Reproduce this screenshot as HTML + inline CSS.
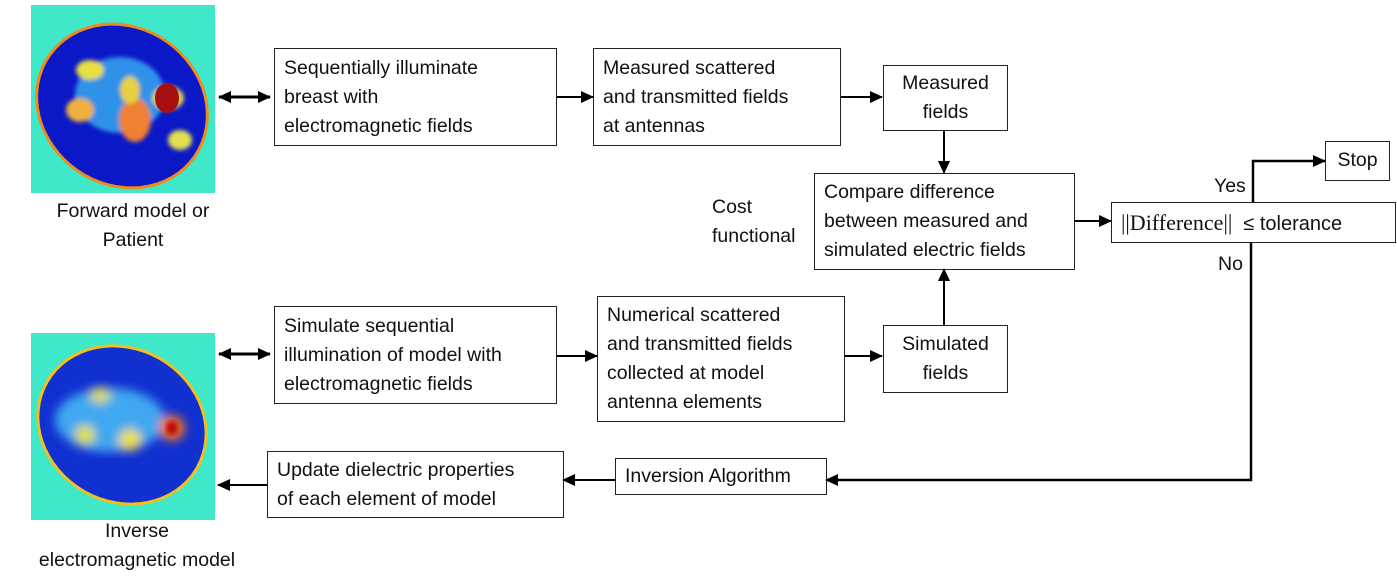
<!DOCTYPE html>
<html><head><meta charset="utf-8"><style>
body{margin:0;width:1397px;height:588px;background:#fff;position:relative;overflow:hidden;font-family:"Liberation Sans",sans-serif;font-size:19.5px;color:#111}
.b{position:absolute;border:1.3px solid #222;box-sizing:border-box;line-height:29px;padding-left:9px}
.t{position:absolute;line-height:29px;white-space:nowrap}
svg{position:absolute;left:0;top:0}
</style></head><body>
<svg width="1397" height="588">
<defs>
<marker id="a" markerWidth="13" markerHeight="12" refX="12" refY="6" orient="auto" markerUnits="userSpaceOnUse"><path d="M0,0L13,6L0,12z" fill="#000"/></marker>
<marker id="s" markerWidth="13" markerHeight="12" refX="1" refY="6" orient="auto" markerUnits="userSpaceOnUse"><path d="M13,0L0,6L13,12z" fill="#000"/></marker>
<filter id="bl"><feGaussianBlur stdDeviation="5"/></filter>
<filter id="bl2"><feGaussianBlur stdDeviation="2"/></filter>
</defs>
<rect x="31" y="5" width="184" height="188" fill="#3fe8c8"/>
<ellipse cx="122" cy="106" rx="90" ry="80" fill="#f08a1a" transform="rotate(35 122 106)"/>
<ellipse cx="122" cy="106" rx="87" ry="77" fill="#0a18c8" transform="rotate(35 122 106)"/>
<g filter="url(#bl2)">
<ellipse cx="120" cy="95" rx="45" ry="38" fill="#3ab0f0" opacity=".8"/>
<ellipse cx="90" cy="70" rx="14" ry="10" fill="#e8e040"/>
<ellipse cx="80" cy="110" rx="14" ry="12" fill="#f0b040"/>
<ellipse cx="135" cy="120" rx="16" ry="22" fill="#f08030"/>
<ellipse cx="130" cy="90" rx="10" ry="14" fill="#e8d040"/>
<ellipse cx="180" cy="140" rx="12" ry="10" fill="#e0e050"/>
<ellipse cx="168" cy="98" rx="16" ry="12" fill="#e0d050"/>
</g>
<ellipse cx="167" cy="98" rx="12" ry="15" fill="#a81010"/>
<rect x="31" y="333" width="184" height="187" fill="#3fe8c8"/>
<ellipse cx="122" cy="425" rx="88" ry="78" fill="#f0c020" transform="rotate(30 122 425)"/>
<ellipse cx="122" cy="425" rx="85" ry="75" fill="#1030d0" transform="rotate(30 122 425)"/>
<g filter="url(#bl)">
<ellipse cx="110" cy="420" rx="55" ry="32" fill="#40a8f0"/>
<ellipse cx="130" cy="440" rx="11" ry="11" fill="#f0e040"/>
<ellipse cx="85" cy="435" rx="10" ry="10" fill="#e0e040"/>
<ellipse cx="100" cy="395" rx="10" ry="8" fill="#e0e060"/>
<ellipse cx="172" cy="428" rx="13" ry="13" fill="#f07020"/>
</g>
<ellipse cx="172" cy="428" rx="6" ry="7" fill="#c01010" filter="url(#bl2)"/>
<g stroke="#000" stroke-width="2" fill="none">
<line x1="219" y1="97" x2="270" y2="97" marker-start="url(#s)" marker-end="url(#a)" stroke-width="3"/>
<line x1="219" y1="354" x2="270" y2="354" marker-start="url(#s)" marker-end="url(#a)" stroke-width="3"/>
<line x1="556" y1="97" x2="593" y2="97" marker-end="url(#a)"/>
<line x1="840" y1="97" x2="882" y2="97" marker-end="url(#a)"/>
<line x1="944" y1="130" x2="944" y2="173" marker-end="url(#a)"/>
<line x1="1074" y1="221" x2="1111" y2="221" marker-end="url(#a)"/>
<polyline points="1253,202 1253,161 1325,161" marker-end="url(#a)" stroke-width="2.5"/>
<polyline points="1251,242 1251,480 826,480" marker-end="url(#a)" stroke-width="2.5"/>
<line x1="615" y1="480" x2="563" y2="480" marker-end="url(#a)"/>
<line x1="267" y1="485" x2="218" y2="485" marker-end="url(#a)"/>
<line x1="556" y1="356" x2="597" y2="356" marker-end="url(#a)"/>
<line x1="844" y1="356" x2="882" y2="356" marker-end="url(#a)"/>
<line x1="944" y1="325" x2="944" y2="269" marker-end="url(#a)"/>
</g>
</svg>
<div class="b" style="left:274px;top:48px;width:283px;height:98px;padding-top:5px">Sequentially illuminate<br>breast with<br>electromagnetic fields</div>
<div class="b" style="left:593px;top:48px;width:248px;height:98px;padding-top:5px">Measured scattered<br>and transmitted fields<br>at antennas</div>
<div class="b" style="left:883px;top:65px;width:125px;height:66px;padding:3px 0 0;text-align:center">Measured<br>fields</div>
<div class="b" style="left:814px;top:173px;width:261px;height:97px;padding-top:4px">Compare difference<br>between measured and<br>simulated electric fields</div>
<div class="b" style="left:1111px;top:202px;width:285px;height:41px;padding-top:5px;font-family:'Liberation Serif',serif;font-size:22px">||Difference|| <span style="font-family:'Liberation Sans',sans-serif;font-size:20px">&nbsp;≤ tolerance</span></div>
<div class="b" style="left:1325px;top:141px;width:65px;height:40px;padding:4px 0 0;text-align:center">Stop</div>
<div class="b" style="left:274px;top:306px;width:283px;height:98px;padding-top:5px">Simulate sequential<br>illumination of model with<br>electromagnetic fields</div>
<div class="b" style="left:597px;top:296px;width:248px;height:126px;padding-top:4px">Numerical scattered<br>and transmitted fields<br>collected at model<br>antenna elements</div>
<div class="b" style="left:883px;top:325px;width:125px;height:68px;padding:4px 0 0;text-align:center">Simulated<br>fields</div>
<div class="b" style="left:615px;top:458px;width:212px;height:37px;padding-top:3px">Inversion Algorithm</div>
<div class="b" style="left:267px;top:451px;width:297px;height:67px;padding-top:4px">Update dielectric properties<br>of each element of model</div>
<div class="t" style="left:33px;top:197px;width:200px;text-align:center">Forward model or<br>Patient</div>
<div class="t" style="left:22px;top:517px;width:230px;text-align:center">Inverse<br>electromagnetic model</div>
<div class="t" style="left:712px;top:193px">Cost<br>functional</div>
<div class="t" style="left:1214px;top:172px">Yes</div>
<div class="t" style="left:1218px;top:250px">No</div>
</body></html>
